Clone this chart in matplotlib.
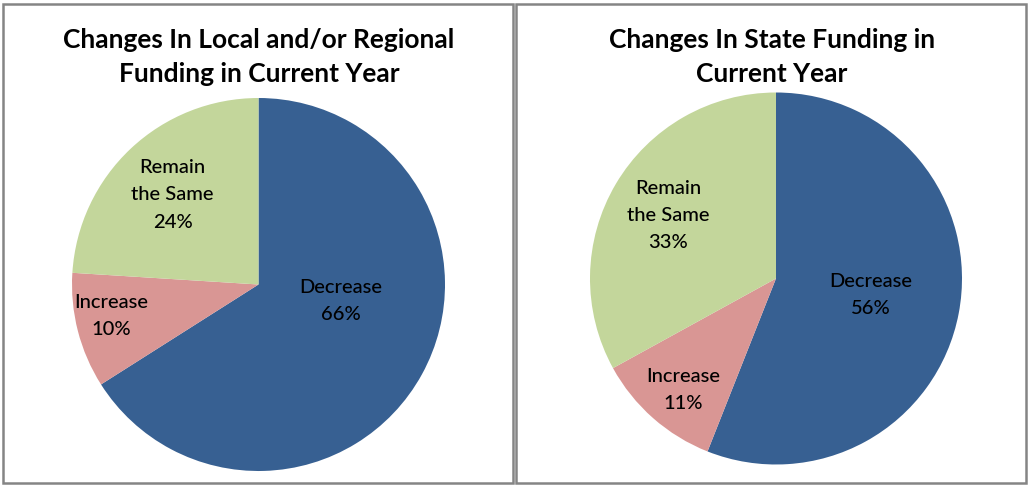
import matplotlib.pyplot as plt
from matplotlib.patches import Rectangle

plt.rcParams['font.family'] = ['Lato', 'DejaVu Sans']

# data
categories = ["Decrease", "Increase", "Remain\nthe Same"]
local_values = [66, 10, 24]
state_values = [56, 11, 33]
colors = ["#376092", "#D99694", "#C3D69B"]

titles = ["Changes In Local and/or Regional\nFunding in Current Year",
          "Changes In State Funding in\nCurrent Year"]

# label placement (data coords of a unit pie), Excel "best fit" style
local_label_pos = [(0.44, -0.09), (-0.79, -0.17), (-0.46, 0.48)]
state_label_pos = [(0.51, -0.09), (-0.50, -0.60), (-0.58, 0.34)]

W, H = 1029, 488
fig = plt.figure(figsize=(W / 100, H / 100), dpi=100)

# panel frames (pixels)
for x0, x1 in [(3, 513), (516, 1026)]:
    fig.add_artist(Rectangle((x0 / W, 1 - 483 / H), (x1 - x0) / W, (483 - 4) / H,
                             transform=fig.transFigure, fill=False,
                             edgecolor="#858585", linewidth=1.8))

# pie axes boxes: centre x, centre y, radius (pixels)
boxes = [(258.5, 284.5, 186.5), (776, 278.5, 186)]
title_x = [259, 772]

for i, (vals, lpos) in enumerate([(local_values, local_label_pos),
                                  (state_values, state_label_pos)]):
    cx, cy, r = boxes[i]
    ax = fig.add_axes([(cx - r) / W, (H - cy - r) / H, 2 * r / W, 2 * r / H])
    ax.pie(vals, colors=colors, startangle=90, counterclock=False,
           wedgeprops=dict(linewidth=0))
    ax.set_xlim(-1, 1)
    ax.set_ylim(-1, 1)
    ax.set_aspect('auto')
    ax.axis('off')
    for cat, v, (px, py) in zip(categories, vals, lpos):
        ax.text(px, py, f"{cat}\n{v}%", ha='center', va='center',
                fontsize=14.5, fontweight='medium', color='black',
                linespacing=1.72)
    fig.text(title_x[i] / W, 1 - 57 / H, titles[i], ha='center', va='center',
             fontsize=19, fontweight='bold', linespacing=1.55)

fig.savefig("out.png", dpi=100)
